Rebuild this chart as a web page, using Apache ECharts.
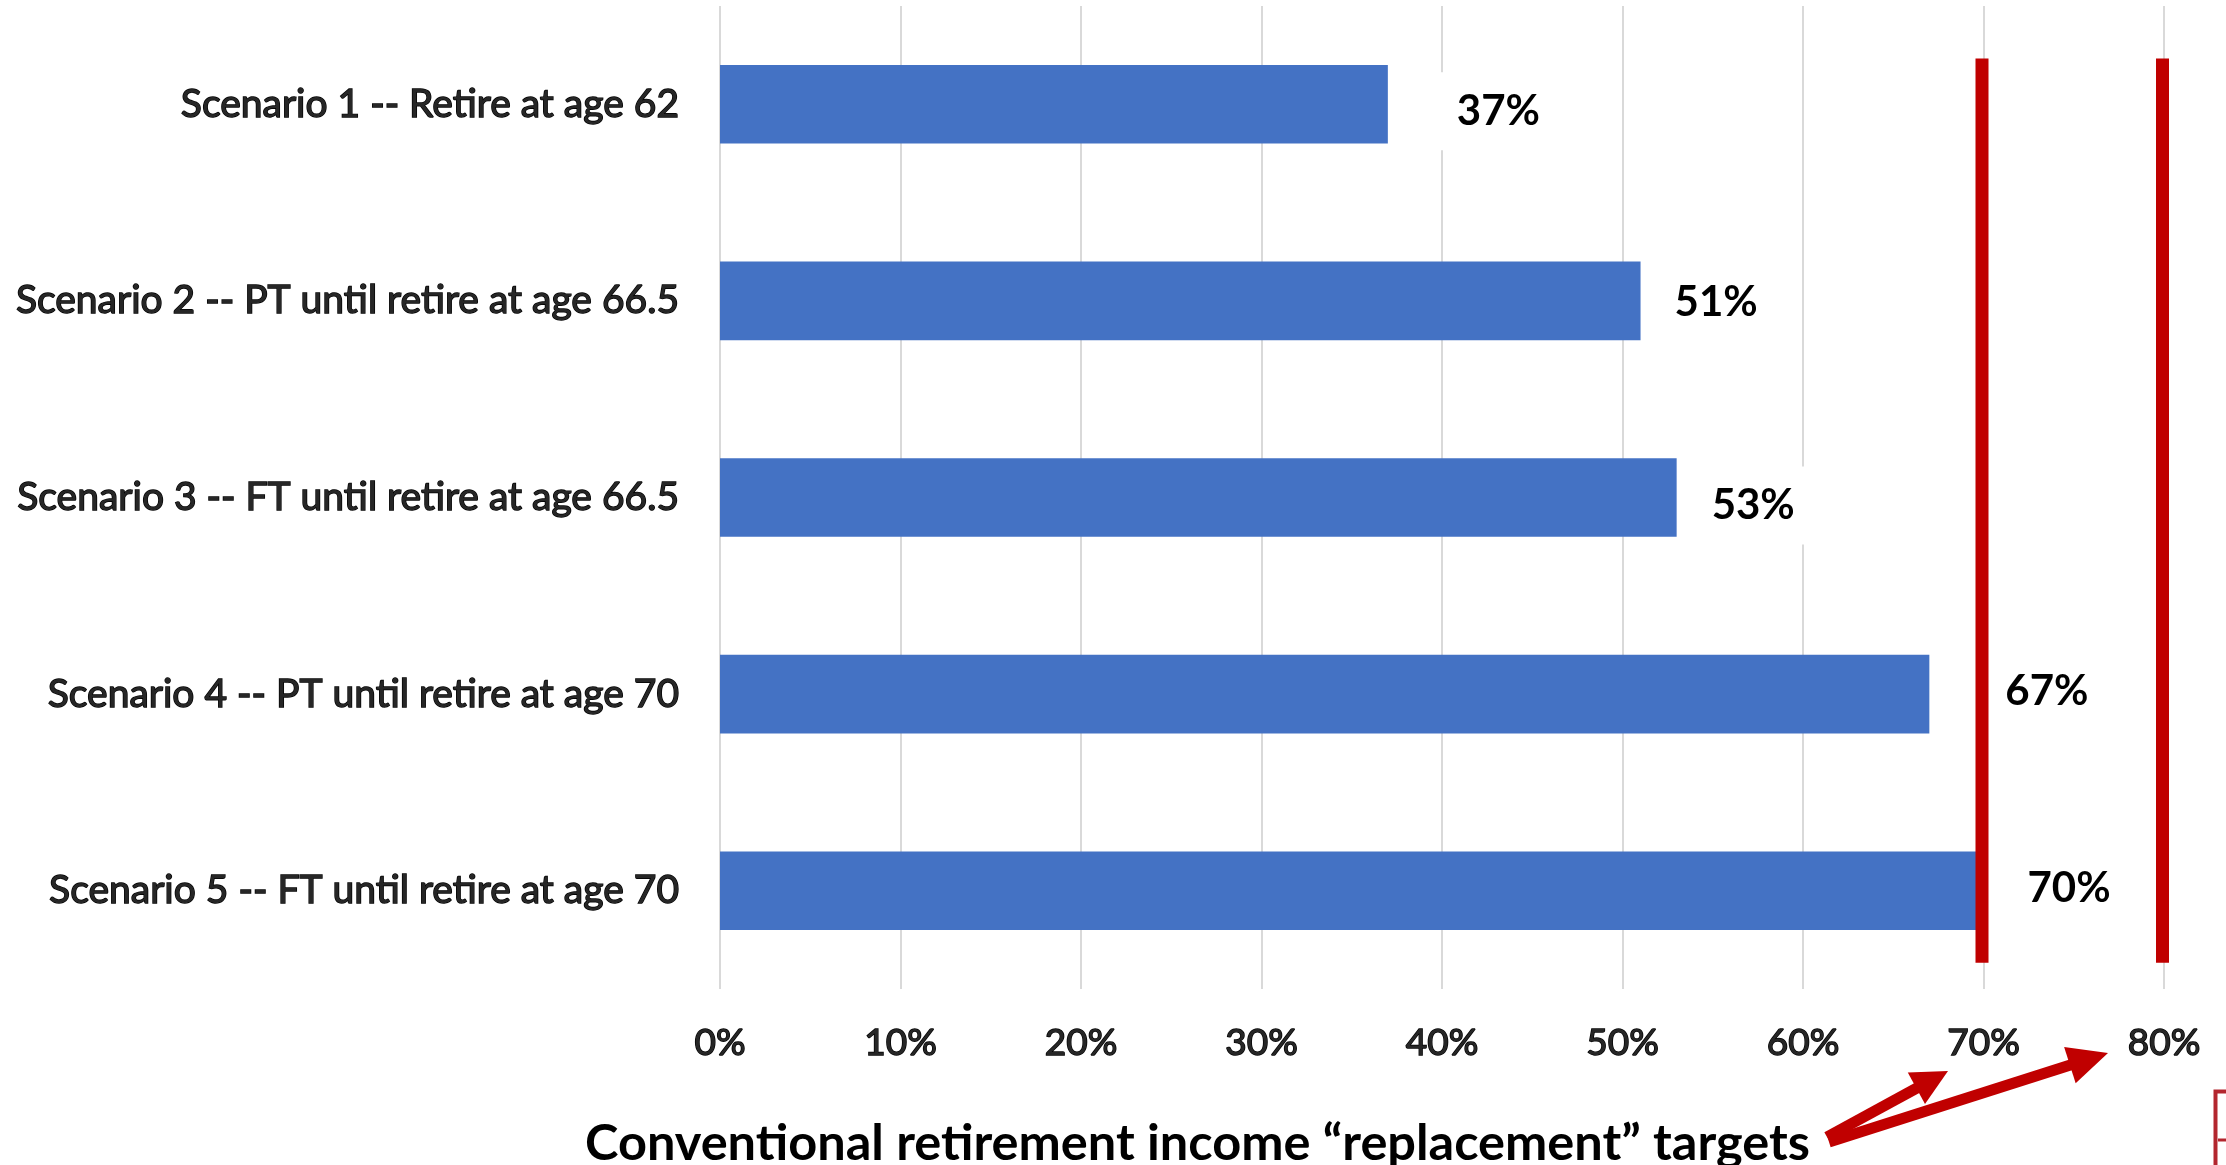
<!DOCTYPE html>
<html><head><meta charset="utf-8">
<script src="https://cdn.jsdelivr.net/npm/echarts@6/dist/echarts.min.js"></script>
<style>html,body{margin:0;padding:0;background:#fff}#c{width:2226px;height:1165px}</style>
</head><body><div id="c"></div>
<script>
// ---- data ----
const categories = [
  'Scenario 1 -- Retire at age 62',
  'Scenario 2 -- PT until retire at age 66.5',
  'Scenario 3 -- FT until retire at age 66.5',
  'Scenario 4 -- PT until retire at age 70',
  'Scenario 5 -- FT until retire at age 70'
];
const values = [37, 51, 53, 67, 70];
const targets = [70, 80];
const axisMin = 0, axisMax = 80, axisStep = 10;
const titleText = 'Conventional retirement income \u201Creplacement\u201D targets';

// ---- layout tweaks (label placement as in the original) ----
const labelShift = [[51, 7], [16, 2], [17, 8], [58, -3], [26, -2]];
const RED = '#C00000';

function arrow(x0, y0, x1, y1, headLen, headHalf, w) {
  const dx = x1 - x0, dy = y1 - y0, L = Math.hypot(dx, dy), ux = dx / L, uy = dy / L;
  const bx = x1 - ux * headLen, by = y1 - uy * headLen, px = -uy, py = ux;
  return [
    { type: 'line', shape: { x1: x0, y1: y0, x2: bx + ux * 3, y2: by + uy * 3 }, style: { stroke: RED, lineWidth: w } },
    { type: 'polygon', shape: { points: [[x1, y1], [bx + px * headHalf, by + py * headHalf], [bx - px * headHalf, by - py * headHalf]] }, style: { fill: RED } }
  ];
}

const chart = echarts.init(document.getElementById('c'), null, { renderer: 'canvas' });
const outlineText = { color: '#262626', textBorderColor: '#000', textBorderWidth: 1.4, fontFamily: 'Lato' };

chart.setOption({
  animation: false,
  backgroundColor: '#fff',
  grid: { left: 720, right: 62, top: 6, bottom: 176, containLabel: false },
  xAxis: {
    type: 'value', min: axisMin, max: axisMax, interval: axisStep,
    axisLine: { show: false }, axisTick: { show: false },
    axisLabel: Object.assign({ formatter: '{value}%', fontSize: 37, margin: 36 }, outlineText),
    splitLine: { show: true, lineStyle: { color: '#d9d9d9', width: 2 } }
  },
  yAxis: {
    type: 'category', data: categories, inverse: true,
    axisLine: { show: false }, axisTick: { show: false }, splitLine: { show: false },
    axisLabel: Object.assign({ fontSize: 39, margin: 41 }, outlineText)
  },
  series: [
    {
      type: 'bar', barWidth: '40%',
      itemStyle: { color: '#4472C4' },
      label: {
        show: true, position: 'right', formatter: '{c}%',
        fontFamily: 'Lato', fontWeight: 'bold', fontSize: 42, lineHeight: 42, color: '#000',
        backgroundColor: '#fff', padding: [18, 18]
      },
      data: values.map((v, i) => ({ value: v, label: { distance: labelShift[i][0], offset: [0, labelShift[i][1]] } }))
    },
    {
      type: 'custom', z: 5,
      data: targets.map(v => [v, 0]),
      encode: { x: 0, y: 1 },
      renderItem: function (params, api) {
        const v = api.value(0);
        const pTop = api.coord([v, 0]);
        const pBot = api.coord([v, categories.length - 1]);
        const band = api.size([0, 1])[1];
        const y0 = pTop[1] - band * 0.233, y1 = pBot[1] + band * 0.366;
        return { type: 'rect', shape: { x: pTop[0] - 8, y: y0, width: 13, height: y1 - y0 }, style: { fill: RED } };
      }
    }
  ],
  graphic: [
    { type: 'text', left: 585, top: 1118, style: { text: titleText, font: 'bold 50.5px Lato', fill: '#000' } },
    ...arrow(1827, 1137, 1948, 1071, 36, 18, 11),
    ...arrow(1829, 1142, 2108, 1053, 40, 19, 11),
    { type: 'polyline', shape: { points: [[2215.5, 1165], [2215.5, 1091.5], [2226, 1091.5]] }, style: { stroke: '#B3262E', lineWidth: 4, fill: null } },
    { type: 'line', shape: { x1: 2218, y1: 1140, x2: 2226, y2: 1140 }, style: { stroke: '#B3262E', lineWidth: 3 } }
  ]
});
</script></body></html>
